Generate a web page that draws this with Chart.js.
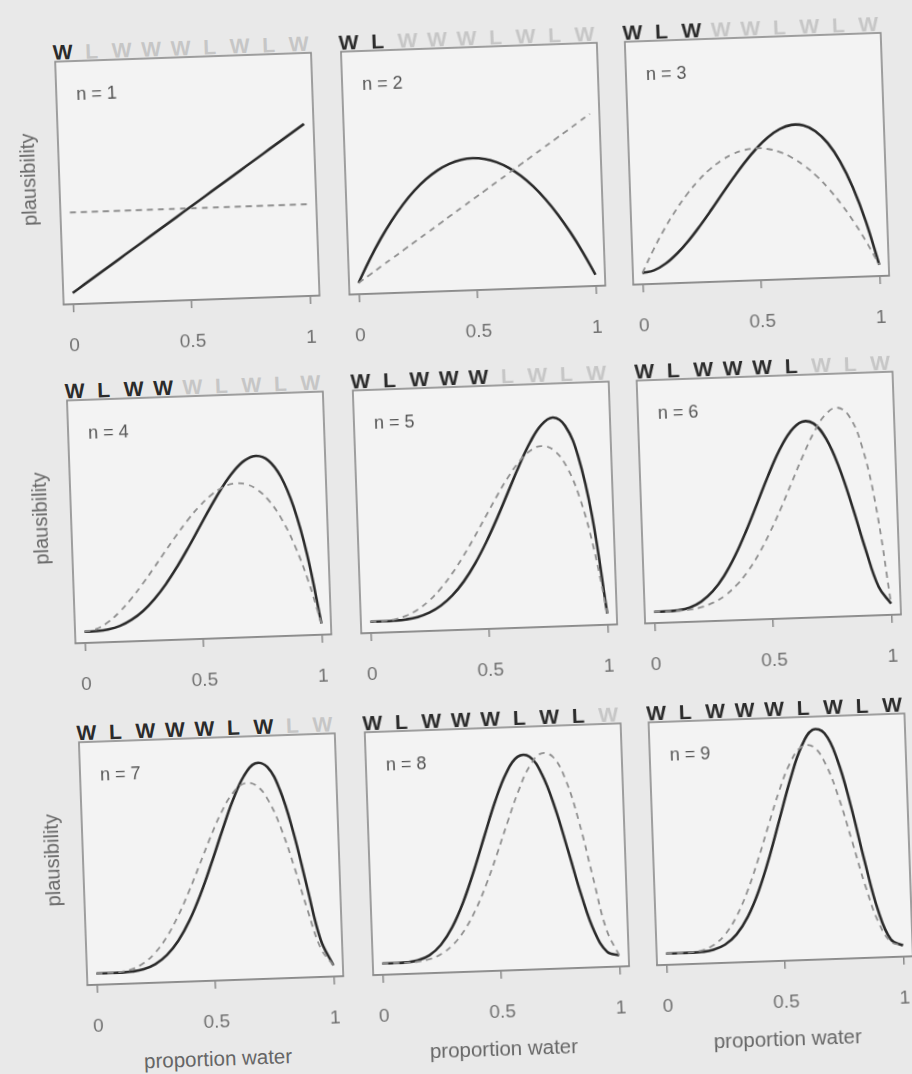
<!DOCTYPE html>
<html><head><meta charset="utf-8">
<script src="https://cdn.jsdelivr.net/npm/chart.js@4.4.1/dist/chart.umd.min.js"></script>
<style>
html,body{margin:0;padding:0;background:#e9e9e9;width:912px;height:1074px;overflow:hidden;font-family:"Liberation Sans",Arial,sans-serif;}
#fig{position:absolute;left:0;top:0;width:912px;height:1074px;transform:rotate(-2deg);transform-origin:456px 537px;}
canvas{position:absolute;}
.hdr{position:absolute;height:22px;}
.hdr span{position:absolute;top:0;font-weight:bold;font-size:21px;line-height:21px;}
.on{color:#2b2b2b;}
.off{color:#c6c6c6;}
.nlab{position:absolute;font-size:18px;line-height:18px;color:#555;white-space:nowrap;}
.ylab{position:absolute;width:200px;text-align:center;font-size:20px;line-height:20px;color:#666;transform:rotate(-90deg);}
.xlab{position:absolute;text-align:center;font-size:20.5px;line-height:22px;color:#666;}
</style></head><body><div id="fig"></div>
<script>
// ---- data ----
const proportionWater = [0,0.05,0.1,0.15,0.2,0.25,0.3,0.35,0.4,0.45,0.5,0.55,0.6,0.65,0.7,0.75,0.8,0.85,0.9,0.95,1];
const observations = ['W','L','W','W','W','L','W','L','W'];
const xTicks = [0, 0.5, 1];
const xTickLabels = ['0', '0.5', '1'];
const prior = [1,1,1,1,1,1,1,1,1,1,1,1,1,1,1,1,1,1,1,1,1];
const post1 = [0,0.1,0.2,0.3,0.4,0.5,0.6,0.7,0.8,0.9,1,1.1,1.2,1.3,1.4,1.5,1.6,1.7,1.8,1.9,2];
const post2 = [0,0.285,0.54,0.765,0.96,1.125,1.26,1.365,1.44,1.485,1.5,1.485,1.44,1.365,1.26,1.125,0.96,0.765,0.54,0.285,0];
const post3 = [0,0.029,0.108,0.23,0.384,0.563,0.756,0.956,1.152,1.337,1.5,1.634,1.728,1.775,1.764,1.688,1.536,1.301,0.972,0.542,0];
const post4 = [0,0.002,0.018,0.057,0.128,0.234,0.378,0.557,0.768,1.002,1.25,1.497,1.728,1.922,2.058,2.109,2.048,1.842,1.458,0.857,0];
const post5 = [0,0,0.003,0.013,0.038,0.088,0.17,0.293,0.461,0.677,0.938,1.235,1.555,1.874,2.161,2.373,2.458,2.349,1.968,1.222,0];
const post6 = [0,0.001,0.009,0.038,0.108,0.231,0.417,0.666,0.968,1.302,1.641,1.946,2.177,2.296,2.269,2.076,1.72,1.233,0.689,0.214,0];
const post7 = [0,0,0.001,0.009,0.034,0.092,0.2,0.373,0.619,0.938,1.313,1.712,2.09,2.388,2.541,2.492,2.202,1.677,0.992,0.325,0];
const post8 = [0,0,0.004,0.024,0.083,0.208,0.42,0.727,1.115,1.547,1.969,2.311,2.508,2.507,2.287,1.869,1.321,0.755,0.298,0.049,0];
const post9 = [0,0,0.001,0.006,0.028,0.087,0.21,0.424,0.743,1.161,1.641,2.119,2.508,2.716,2.668,2.336,1.762,1.069,0.446,0.077,0];
const posteriors = [prior, post1, post2, post3, post4, post5, post6, post7, post8, post9];

// ---- layout ----
const colLeft = [72, 358, 642];
const rowTop = [48, 387, 729];
const FW = 256, FH = 243;
const PADX = 24, PADT = 12, AXH = 62;
const frameColor = '#8a8a8a';
const fig = document.getElementById('fig');

Chart.defaults.font.family = '"Liberation Sans", Arial, sans-serif';

const framePlugin = {
  id: 'frame',
  beforeDraw(chart) {
    const a = chart.chartArea, c = chart.ctx;
    c.save(); c.fillStyle = '#f3f3f3';
    c.fillRect(a.left, a.top, a.right - a.left, a.bottom - a.top); c.restore();
  },
  afterDraw(chart) {
    const a = chart.chartArea, c = chart.ctx;
    c.save(); c.strokeStyle = frameColor; c.lineWidth = 1.6;
    c.strokeRect(a.left, a.top, a.right - a.left, a.bottom - a.top); c.restore();
  }
};

function pts(arr) { return proportionWater.map((x, i) => ({ x: x, y: arr[i] })); }

for (let k = 1; k <= 9; k++) {
  const col = (k - 1) % 3, row = Math.floor((k - 1) / 3);
  const L = colLeft[col], T = rowTop[row];

  // header sequence
  const hdr = document.createElement('div');
  hdr.className = 'hdr';
  hdr.style.left = (L - 2) + 'px'; hdr.style.top = (T - 20) + 'px'; hdr.style.width = FW + 'px';
  const step = (FW - 20) / 8;
  observations.forEach((o, i) => {
    const s = document.createElement('span');
    s.textContent = o;
    s.className = i < k ? 'on' : 'off';
    s.style.left = (i * step + (o === 'L' ? 3 : 0)) + 'px';
    hdr.appendChild(s);
  });
  fig.appendChild(hdr);

  const cv = document.createElement('canvas');
  const W = FW + 2 * PADX, H = FH + PADT + AXH;
  cv.width = W; cv.height = H;
  cv.style.width = W + 'px'; cv.style.height = H + 'px';
  cv.style.left = (L - PADX) + 'px'; cv.style.top = (T - PADT) + 'px';
  fig.appendChild(cv);

  new Chart(cv, {
    type: 'line',
    data: {
      datasets: [
        { data: pts(posteriors[k - 1]), borderColor: '#8f8f8f', borderWidth: 1.8, borderDash: [6, 5], pointRadius: 0, tension: 0.4, fill: false },
        { data: pts(posteriors[k]), borderColor: '#2a2a2a', borderWidth: 2.6, pointRadius: 0, tension: 0.4, fill: false }
      ]
    },
    options: {
      responsive: false, animation: false, devicePixelRatio: 1,
      layout: { padding: { left: PADX, right: PADX, top: PADT, bottom: 0 } },
      plugins: { legend: { display: false }, tooltip: { enabled: false } },
      scales: {
        x: {
          type: 'linear', min: -0.04, max: 1.04,
          afterBuildTicks(s) { s.ticks = xTicks.map(v => ({ value: v })); },
          afterFit(s) { s.height = AXH; },
          grid: { display: true, drawOnChartArea: false, drawTicks: true, tickLength: 8, color: frameColor, lineWidth: 1.5 },
          border: { display: true, color: frameColor, width: 1.6 },
          ticks: { color: '#707070', font: { size: 19 }, padding: 22, maxRotation: 0, autoSkip: false,
                   callback: v => xTickLabels[xTicks.indexOf(v)] }
        },
        y: { display: false, min: -0.14, max: 2.88 }
      }
    },
    plugins: [framePlugin]
  });

  const nl = document.createElement('div');
  nl.className = 'nlab';
  nl.textContent = 'n = ' + k;
  nl.style.left = (L + 20) + 'px'; nl.style.top = (T + 24) + 'px';
  fig.appendChild(nl);

  if (col === 0) {
    const yl = document.createElement('div');
    yl.className = 'ylab';
    yl.textContent = 'plausibility';
    yl.style.left = (40.5 - 100) + 'px';
    yl.style.top = (T + FH / 2 - 5 - 10) + 'px';
    fig.appendChild(yl);
  }
  if (row === 2) {
    const xl = document.createElement('div');
    xl.className = 'xlab';
    xl.textContent = 'proportion water';
    xl.style.left = L + 'px'; xl.style.width = FW + 'px';
    xl.style.top = (T + FH + 78 - 11) + 'px';
    fig.appendChild(xl);
  }
}
</script></body></html>
